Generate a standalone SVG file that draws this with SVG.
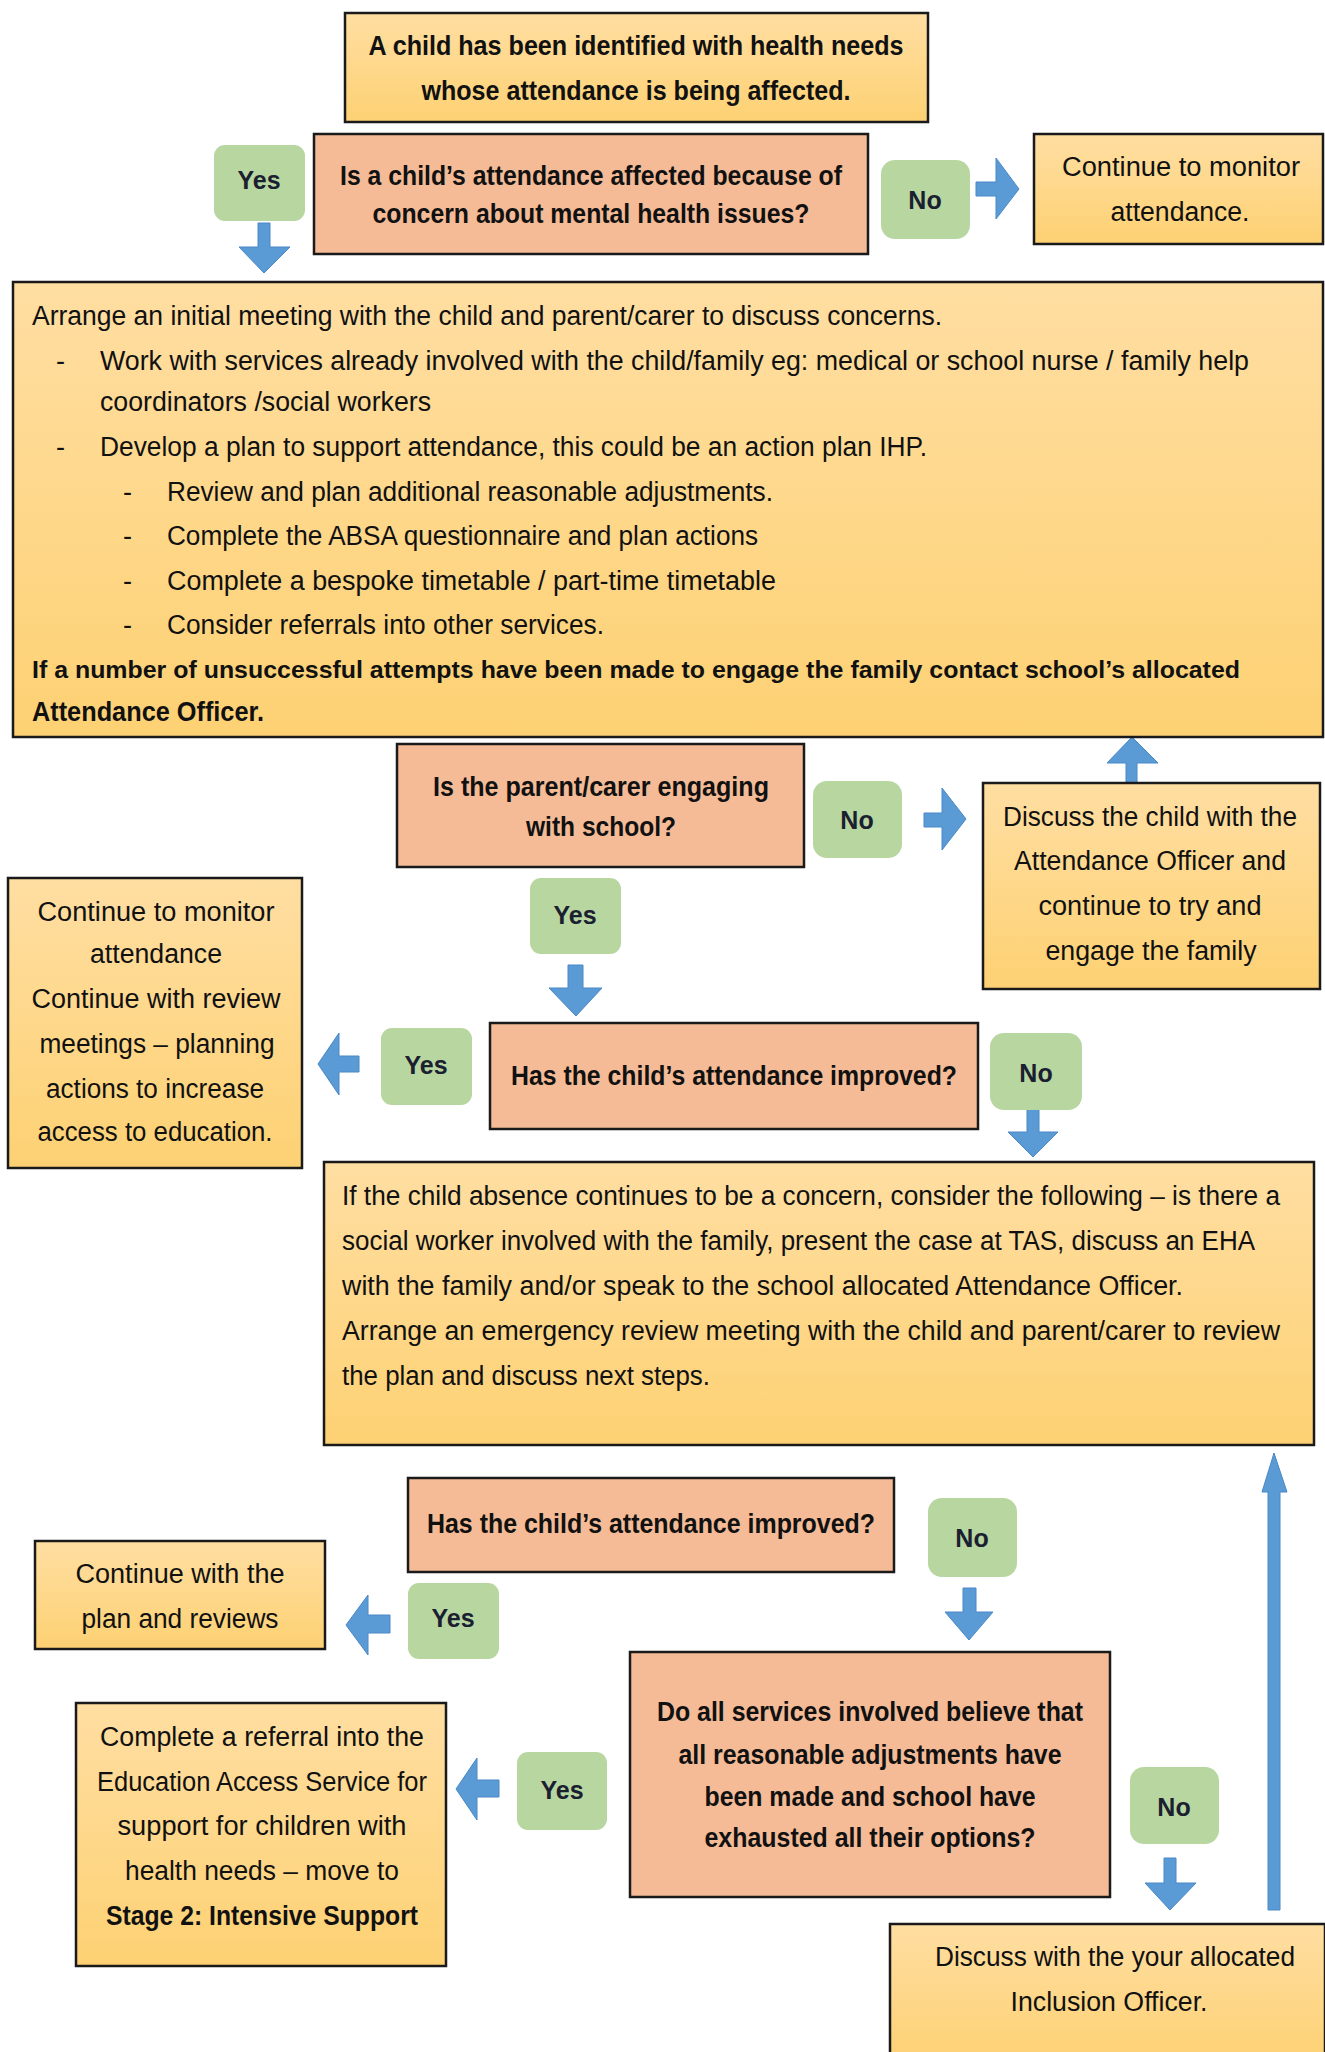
<svg xmlns="http://www.w3.org/2000/svg" width="1325" height="2052" viewBox="0 0 1325 2052">
<defs>
<linearGradient id="og" x1="0" y1="0" x2="0" y2="1">
<stop offset="0" stop-color="#FFDEA2"/>
<stop offset="1" stop-color="#FDD173"/>
</linearGradient>
<style>
.box{fill:url(#og);stroke:#1a1a1a;stroke-width:2.5}
.q{fill:#F4BB96;stroke:#1a1a1a;stroke-width:2.5}
.pill{fill:#B8D6A0}
.arr{fill:#5B9BD5;stroke:#4A88C6;stroke-width:1}
text{font-family:"Liberation Sans",Arial,sans-serif;fill:#111}
.t{font-size:27px}
.b{font-size:27px;font-weight:bold}
.bs{font-size:24px;font-weight:bold}
.c{text-anchor:middle}
.lbl{font-size:25px;font-weight:bold;text-anchor:middle;fill:#1a2030}
</style>
</defs>
<rect width="1325" height="2052" fill="#fff"/>

<g id="connectors">
<polygon class="arr" points="258,223 270,223 270,247 290,247 264,273 239,247 258,247"/>
<polygon class="arr" points="976,182 996,182 996,158 1019,189 996,219 996,196 976,196"/>
<polygon class="arr" points="1126,785 1137,785 1137,763 1158,763 1132,737 1107,763 1126,763"/>
<polygon class="arr" points="924,813 942,813 942,788 966,819 942,850 942,827 924,827"/>
<polygon class="arr" points="568,965 583,965 583,988 602,988 576,1016 549,988 568,988"/>
<polygon class="arr" points="359,1056 339,1056 339,1033 318,1064 339,1095 339,1072 359,1072"/>
<polygon class="arr" points="1027,1107 1039,1107 1039,1132 1058,1132 1033,1157 1008,1132 1027,1132"/>
<polygon class="arr" points="1268,1910 1280,1910 1280,1492 1287,1492 1274,1453 1262,1492 1268,1492"/>
<polygon class="arr" points="963,1588 976,1588 976,1612 993,1612 969,1640 945,1612 963,1612"/>
<polygon class="arr" points="390,1615 368,1615 368,1595 346,1625 368,1655 368,1633 390,1633"/>
<polygon class="arr" points="499,1780 477,1780 477,1758 456,1789 477,1820 477,1797 499,1797"/>
<polygon class="arr" points="1164,1858 1176,1858 1176,1883 1196,1883 1170,1910 1145,1883 1164,1883"/>
</g>

<g id="n1">
<rect class="box" x="345" y="13" width="583" height="109"/>
<text class="b c" x="636" y="55" textLength="535" lengthAdjust="spacingAndGlyphs">A child has been identified with health needs</text>
<text class="b c" x="636" y="100" textLength="429" lengthAdjust="spacingAndGlyphs">whose attendance is being affected.</text>
</g>

<g id="n2">
<rect class="q" x="314" y="134" width="554" height="120"/>
<text class="b c" x="591" y="185" textLength="502" lengthAdjust="spacingAndGlyphs">Is a child’s attendance affected because of</text>
<text class="b c" x="591" y="223" textLength="437" lengthAdjust="spacingAndGlyphs">concern about mental health issues?</text>
</g>

<g id="yes1"><rect class="pill" x="214" y="145" width="91" height="76" rx="11"/><text class="lbl" x="259" y="189">Yes</text></g>
<g id="no1"><rect class="pill" x="881" y="160" width="89" height="79" rx="14"/><text class="lbl" x="925" y="209">No</text></g>

<g id="n3">
<rect class="box" x="1034" y="134" width="289" height="110"/>
<text class="t c" x="1181" y="176" textLength="238" lengthAdjust="spacingAndGlyphs">Continue to monitor</text>
<text class="t c" x="1180" y="221" textLength="139" lengthAdjust="spacingAndGlyphs">attendance.</text>
</g>

<g id="n4">
<rect class="box" x="13" y="282" width="1310" height="455"/>
<text class="t" x="32" y="325" textLength="910" lengthAdjust="spacingAndGlyphs">Arrange an initial meeting with the child and parent/carer to discuss concerns.</text>
<text class="t" x="56" y="370">-</text>
<text class="t" x="100" y="370" textLength="1149" lengthAdjust="spacingAndGlyphs">Work with services already involved with the child/family eg:  medical or school nurse / family help</text>
<text class="t" x="100" y="411" textLength="331" lengthAdjust="spacingAndGlyphs">coordinators /social workers</text>
<text class="t" x="56" y="456">-</text>
<text class="t" x="100" y="456" textLength="827" lengthAdjust="spacingAndGlyphs">Develop a plan to support attendance, this could be an action plan IHP.</text>
<text class="t" x="123" y="501">-</text>
<text class="t" x="167" y="501" textLength="606" lengthAdjust="spacingAndGlyphs">Review and plan additional reasonable adjustments.</text>
<text class="t" x="123" y="545">-</text>
<text class="t" x="167" y="545" textLength="591" lengthAdjust="spacingAndGlyphs">Complete the ABSA questionnaire and plan actions</text>
<text class="t" x="123" y="590">-</text>
<text class="t" x="167" y="590" textLength="609" lengthAdjust="spacingAndGlyphs">Complete a bespoke timetable / part-time timetable</text>
<text class="t" x="123" y="634">-</text>
<text class="t" x="167" y="634" textLength="437" lengthAdjust="spacingAndGlyphs">Consider referrals into other services.</text>
<text class="bs" x="32" y="678" textLength="1208" lengthAdjust="spacingAndGlyphs">If a number of unsuccessful attempts have been made to engage the family contact school’s allocated</text>
<text class="b" x="32" y="721" textLength="232" lengthAdjust="spacingAndGlyphs">Attendance Officer.</text>
</g>

<g id="n5">
<rect class="q" x="397" y="744" width="407" height="123"/>
<text class="b c" x="601" y="796" textLength="336" lengthAdjust="spacingAndGlyphs">Is the parent/carer engaging</text>
<text class="b c" x="601" y="836" textLength="150" lengthAdjust="spacingAndGlyphs">with school?</text>
</g>

<g id="no2"><rect class="pill" x="813" y="781" width="89" height="77" rx="14"/><text class="lbl" x="857" y="829">No</text></g>

<g id="n6">
<rect class="box" x="983" y="783" width="337" height="206"/>
<text class="t c" x="1150" y="826" textLength="294" lengthAdjust="spacingAndGlyphs">Discuss the child with the</text>
<text class="t c" x="1150" y="870" textLength="272" lengthAdjust="spacingAndGlyphs">Attendance Officer and</text>
<text class="t c" x="1150" y="915" textLength="223" lengthAdjust="spacingAndGlyphs">continue to try and</text>
<text class="t c" x="1151" y="960" textLength="211" lengthAdjust="spacingAndGlyphs">engage the family</text>
</g>

<g id="yes2"><rect class="pill" x="530" y="878" width="91" height="76" rx="11"/><text class="lbl" x="575" y="924">Yes</text></g>

<g id="n7">
<rect class="box" x="8" y="878" width="294" height="290"/>
<text class="t c" x="156" y="921" textLength="237" lengthAdjust="spacingAndGlyphs">Continue to monitor</text>
<text class="t c" x="156" y="963" textLength="132" lengthAdjust="spacingAndGlyphs">attendance</text>
<text class="t c" x="156" y="1008" textLength="249" lengthAdjust="spacingAndGlyphs">Continue with review</text>
<text class="t c" x="157" y="1053" textLength="235" lengthAdjust="spacingAndGlyphs">meetings – planning</text>
<text class="t c" x="155" y="1098" textLength="218" lengthAdjust="spacingAndGlyphs">actions to increase</text>
<text class="t c" x="155" y="1141" textLength="235" lengthAdjust="spacingAndGlyphs">access to education.</text>
</g>

<g id="yes3"><rect class="pill" x="381" y="1028" width="91" height="77" rx="11"/><text class="lbl" x="426" y="1074">Yes</text></g>

<g id="n8">
<rect class="q" x="490" y="1023" width="488" height="106"/>
<text class="b c" x="734" y="1085" textLength="446" lengthAdjust="spacingAndGlyphs">Has the child’s attendance improved?</text>
</g>

<g id="no3"><rect class="pill" x="990" y="1033" width="92" height="77" rx="14"/><text class="lbl" x="1036" y="1082">No</text></g>

<g id="n9">
<rect class="box" x="324" y="1162" width="990" height="283"/>
<text class="t" x="342" y="1205" textLength="938" lengthAdjust="spacingAndGlyphs">If the child absence continues to be a concern, consider the following – is there a</text>
<text class="t" x="342" y="1250" textLength="913" lengthAdjust="spacingAndGlyphs">social worker involved with the family, present the case at TAS, discuss an EHA</text>
<text class="t" x="342" y="1295" textLength="841" lengthAdjust="spacingAndGlyphs">with the family and/or speak to the school allocated Attendance Officer.</text>
<text class="t" x="342" y="1340" textLength="938" lengthAdjust="spacingAndGlyphs">Arrange an emergency review meeting with the child and parent/carer to review</text>
<text class="t" x="342" y="1385" textLength="368" lengthAdjust="spacingAndGlyphs">the plan and discuss next steps.</text>
</g>

<g id="n10">
<rect class="q" x="408" y="1478" width="486" height="94"/>
<text class="b c" x="651" y="1533" textLength="448" lengthAdjust="spacingAndGlyphs">Has the child’s attendance improved?</text>
</g>

<g id="no4"><rect class="pill" x="928" y="1498" width="89" height="79" rx="14"/><text class="lbl" x="972" y="1547">No</text></g>

<g id="n11">
<rect class="box" x="35" y="1541" width="290" height="108"/>
<text class="t c" x="180" y="1583" textLength="209" lengthAdjust="spacingAndGlyphs">Continue with the</text>
<text class="t c" x="180" y="1628" textLength="197" lengthAdjust="spacingAndGlyphs">plan and reviews</text>
</g>

<g id="yes4"><rect class="pill" x="408" y="1583" width="91" height="76" rx="11"/><text class="lbl" x="453" y="1627">Yes</text></g>

<g id="n12">
<rect class="q" x="630" y="1652" width="480" height="245"/>
<text class="b c" x="870" y="1721" textLength="426" lengthAdjust="spacingAndGlyphs">Do all services involved believe that</text>
<text class="b c" x="870" y="1764" textLength="383" lengthAdjust="spacingAndGlyphs">all reasonable adjustments have</text>
<text class="b c" x="870" y="1806" textLength="331" lengthAdjust="spacingAndGlyphs">been made and school have</text>
<text class="b c" x="870" y="1847" textLength="331" lengthAdjust="spacingAndGlyphs">exhausted all their options?</text>
</g>

<g id="yes5"><rect class="pill" x="517" y="1752" width="90" height="78" rx="11"/><text class="lbl" x="562" y="1799">Yes</text></g>
<g id="no5"><rect class="pill" x="1130" y="1767" width="89" height="77" rx="14"/><text class="lbl" x="1174" y="1816">No</text></g>

<g id="n13">
<rect class="box" x="76" y="1703" width="370" height="263"/>
<text class="t c" x="262" y="1746" textLength="324" lengthAdjust="spacingAndGlyphs">Complete a referral into the</text>
<text class="t c" x="262" y="1791" textLength="330" lengthAdjust="spacingAndGlyphs">Education Access Service for</text>
<text class="t c" x="262" y="1835" textLength="289" lengthAdjust="spacingAndGlyphs">support for children with</text>
<text class="t c" x="262" y="1880" textLength="274" lengthAdjust="spacingAndGlyphs">health needs – move to</text>
<text class="b c" x="262" y="1925" textLength="312" lengthAdjust="spacingAndGlyphs">Stage 2: Intensive Support</text>
</g>

<g id="n14">
<rect class="box" x="890" y="1924" width="435" height="140"/>
<text class="t c" x="1115" y="1966" textLength="360" lengthAdjust="spacingAndGlyphs">Discuss with the your allocated</text>
<text class="t c" x="1109" y="2011" textLength="197" lengthAdjust="spacingAndGlyphs">Inclusion Officer.</text>
</g>
</svg>
